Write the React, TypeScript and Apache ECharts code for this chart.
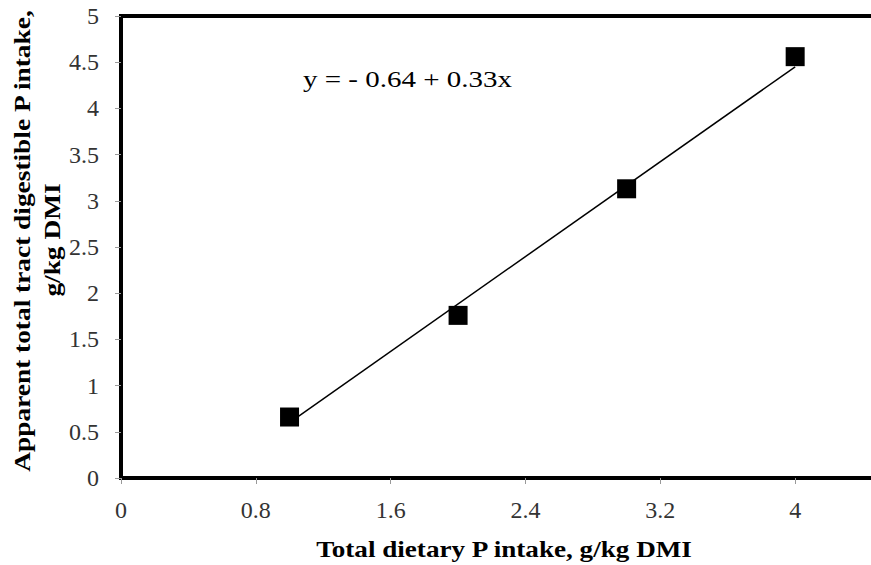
import React, { useEffect, useRef } from "react";
import * as echarts from "echarts";

const intakeX = [1, 2, 3, 4];
const digestibleY = [0.66, 1.76, 3.13, 4.56];
const trendX = [1, 4];
const trendY = [0.6, 4.45];
const equationText = "y = - 0.64 + 0.33x";
const xTitle = "Total dietary P intake, g/kg DMI";
const yTitle1 = "Apparent total tract digestible P intake,";
const yTitle2 = "g/kg DMI";

const FONT = "'Liberation Serif', 'Times New Roman', serif";

export default function App() {
  const ref = useRef<HTMLDivElement>(null);
  useEffect(() => {
    if (!ref.current) return;
    const chart = echarts.init(ref.current, null, { renderer: "svg" });
    chart.setOption({
      animation: false,
      backgroundColor: "#ffffff",
      grid: {
        left: 121,
        top: 16,
        bottom: 87,
        width: 809,
        outerBoundsMode: "none",
        show: true,
        borderWidth: 4,
        borderColor: "#000",
        backgroundColor: "transparent",
      },
      xAxis: {
        type: "value",
        min: 0,
        max: 4.8,
        interval: 0.8,
        axisLine: { show: true, lineStyle: { color: "#000", width: 4 } },
        axisTick: { show: true, length: 6, lineStyle: { color: "#999", width: 1 } },
        splitLine: { show: false },
        axisLabel: {
          showMaxLabel: false,
          margin: 20,
          fontFamily: FONT,
          fontSize: 24,
          color: "#333",
        },
      },
      yAxis: {
        type: "value",
        min: 0,
        max: 5,
        interval: 0.5,
        axisLine: { show: true, lineStyle: { color: "#000", width: 4 } },
        axisTick: { show: true, length: 6, lineStyle: { color: "#999", width: 1 } },
        splitLine: { show: false },
        axisLabel: {
          margin: 22,
          fontFamily: FONT,
          fontSize: 24,
          color: "#333",
        },
      },
      series: [
        {
          type: "line",
          data: trendX.map((x, i) => [x, trendY[i]]),
          symbol: "none",
          lineStyle: { color: "#000", width: 1.5 },
          z: 1,
        },
        {
          type: "scatter",
          data: intakeX.map((x, i) => [x, digestibleY[i]]),
          symbol: "rect",
          symbolSize: 19,
          itemStyle: { color: "#000", opacity: 1 },
          z: 2,
        },
      ],
      graphic: [
        {
          type: "text",
          x: 303,
          y: 80,
          scaleX: 1.26,
          style: {
            text: equationText,
            fontFamily: FONT,
            fontSize: 23,
            fill: "#000",
            align: "left",
            verticalAlign: "middle",
          },
        },
        {
          type: "text",
          x: 504,
          y: 549,
          scaleX: 1.18,
          style: {
            text: xTitle,
            fontFamily: FONT,
            fontSize: 23,
            fontWeight: "bold",
            fill: "#000",
            align: "center",
            verticalAlign: "middle",
          },
        },
        {
          type: "text",
          x: 22,
          y: 241,
          rotation: Math.PI / 2,
          scaleX: 1.19,
          style: {
            text: yTitle1,
            fontFamily: FONT,
            fontSize: 23,
            fontWeight: "bold",
            fill: "#000",
            align: "center",
            verticalAlign: "middle",
          },
        },
        {
          type: "text",
          x: 52,
          y: 240,
          rotation: Math.PI / 2,
          scaleX: 1.19,
          style: {
            text: yTitle2,
            fontFamily: FONT,
            fontSize: 23,
            fontWeight: "bold",
            fill: "#000",
            align: "center",
            verticalAlign: "middle",
          },
        },
      ],
    });
    return () => chart.dispose();
  }, []);
  return (
    <div
      style={{
        position: "fixed",
        left: 0,
        top: 0,
        width: 871,
        height: 565,
        overflow: "hidden",
      }}
    >
      <div ref={ref} style={{ width: 950, height: 565 }} />
    </div>
  );
}
